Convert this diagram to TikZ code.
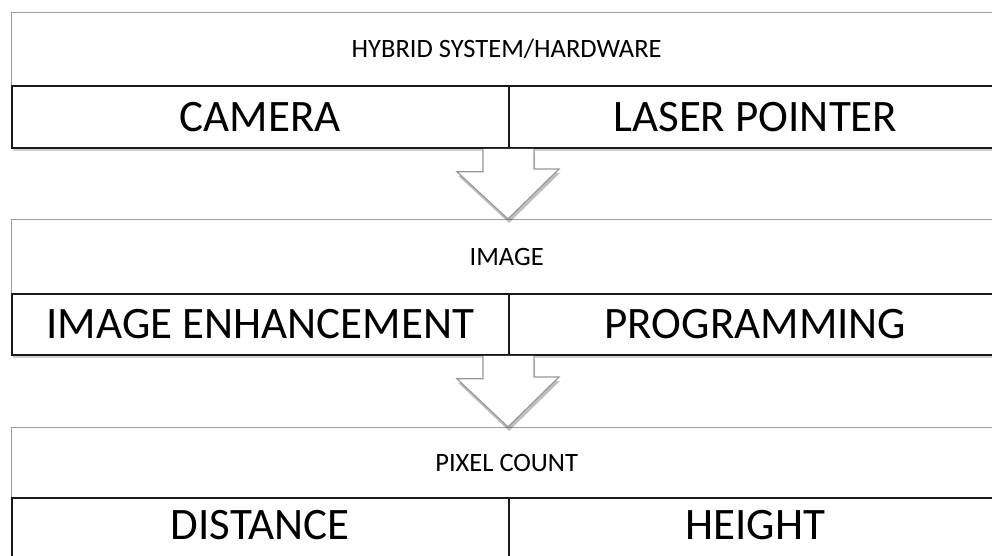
\documentclass[tikz,border=0pt]{standalone}
\usepackage{fontspec}
\setmainfont{Carlito}
\usetikzlibrary{shadows}
\begin{document}
\begin{tikzpicture}[x=1pt,y=-1pt,
  softshadow/.style={drop shadow={shadow xshift=1pt,shadow yshift=-3pt,fill=black,opacity=0.18}},
  hdr/.style={rectangle,draw=black!38,line width=1.3pt,fill=white,inner sep=0pt,
    anchor=north west,font=\fontsize{26.5}{30}\selectfont},
  cell/.style={rectangle,draw=black!90,line width=1.8pt,fill=white,inner sep=0pt,
    anchor=north west,font=\fontsize{45}{52}\selectfont},
  celltext/.style={inner sep=0pt,font=\fontsize{45}{52}\selectfont},
  blockarrow/.style={draw=black!40,line width=1.2pt,fill=white,line join=miter,
    drop shadow={shadow xshift=1pt,shadow yshift=-4pt,fill=black,opacity=0.25}}
]
\clip (0,0) rectangle (992,556);
\fill[white] (0,0) rectangle (992,556);
% block 1
\node[hdr,softshadow,minimum width=990pt,minimum height=73pt] (h1) at (11,12) {HYBRID SYSTEM/HARDWARE};
\node[cell,softshadow,minimum width=497pt,minimum height=62pt] (c1l) at (11,85) {CAMERA};
\node[cell,softshadow,minimum width=493pt,minimum height=62pt] (c1r) at (508,85) {LASER POINTER};
% block 2
\node[hdr,softshadow,minimum width=990pt,minimum height=74pt] (h2) at (11,219) {IMAGE};
\node[cell,softshadow,minimum width=497pt,minimum height=61pt] (c2l) at (11,293) {IMAGE ENHANCEMENT};
\node[cell,softshadow,minimum width=493pt,minimum height=61pt] (c2r) at (508,293) {PROGRAMMING};
% block 3
\node[hdr,softshadow,minimum width=990pt,minimum height=70pt] (h3) at (11,427) {PIXEL COUNT};
\node[cell,minimum width=497pt,minimum height=80pt] (c3l) at (11,497) {};
\node[cell,minimum width=493pt,minimum height=80pt] (c3r) at (508,497) {};
\node[celltext] (t3l) at ([yshift=-28pt]c3l.north) {DISTANCE};
\node[celltext] (t3r) at ([yshift=-28pt]c3r.north) {HEIGHT};
% arrows
\path[blockarrow] ([xshift=-25pt]c1r.south west) -- ++(0,23) -- ++(-26,0)
  -- (h2.north west -| c1r.south west) -- ++(51,-50) -- ++(-25,0) -- ([xshift=26pt]c1r.south west);
\path[blockarrow] ([xshift=-25pt]c2r.south west) -- ++(0,23) -- ++(-26,0)
  -- (h3.north west -| c2r.south west) -- ++(51,-50) -- ++(-25,0) -- ([xshift=26pt]c2r.south west);
\end{tikzpicture}
\end{document}
